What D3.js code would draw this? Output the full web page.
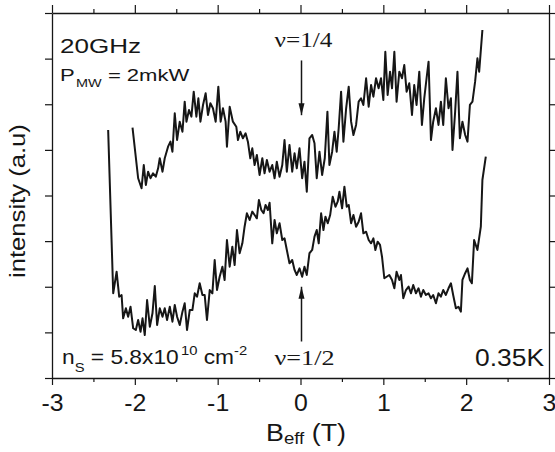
<!DOCTYPE html>
<html>
<head>
<meta charset="utf-8">
<script src="https://cdn.jsdelivr.net/npm/d3@7"></script>
<style>
  html, body { margin: 0; padding: 0; background: #fff; }
  svg { display: block; }
</style>
</head>
<body>
<svg id="chart" width="555" height="452"></svg>
<script>
// Microwave absorption vs effective field, two filling-factor sweeps (a.u.)
const fieldUpper = [
  -2.028, -1.960, -1.919, -1.892, -1.867, -1.840, -1.811, -1.780, -1.747, -1.719,
  -1.699, -1.666, -1.639, -1.599, -1.570, -1.546, -1.518, -1.490, -1.458, -1.425,
  -1.398, -1.377, -1.346, -1.317, -1.289, -1.257, -1.233, -1.208, -1.177, -1.145,
  -1.117, -1.088, -1.057, -1.024, -0.992, -0.964, -0.936, -0.904, -0.888, -0.855,
  -0.816, -0.775, -0.755, -0.727, -0.695, -0.663, -0.635, -0.606, -0.582, -0.554,
  -0.527, -0.494, -0.461, -0.434, -0.406, -0.373, -0.341, -0.313, -0.286, -0.253,
  -0.220, -0.193, -0.165, -0.133, -0.100, -0.072, -0.045, -0.012, 0.020, 0.048,
  0.076, 0.108, 0.141, 0.169, 0.196, 0.229, 0.261, 0.293, 0.325, 0.349,
  0.382, 0.410, 0.437, 0.461, 0.490, 0.518, 0.551, 0.582, 0.611, 0.639,
  0.671, 0.702, 0.731, 0.759, 0.792, 0.823, 0.852, 0.880, 0.912, 0.943,
  0.972, 1.000, 1.024, 1.052, 1.081, 1.105, 1.133, 1.160, 1.193, 1.225,
  1.253, 1.281, 1.313, 1.346, 1.373, 1.401, 1.434, 1.466, 1.494, 1.522,
  1.546, 1.575, 1.602, 1.635, 1.666, 1.695, 1.723, 1.755, 1.787, 1.816,
  1.835, 1.867, 1.895, 1.924, 1.955, 1.988, 2.016, 2.045, 2.076, 2.108,
  2.136, 2.157, 2.196
];
const intensityUpper = [
  274.3, 218.9, 207.9, 233.4, 211.5, 226.1, 218.9, 224.3, 220.6, 229.8,
  240.8, 226.1, 240.8, 253.5, 259.0, 248.0, 290.1, 260.8, 280.9, 269.9,
  302.8, 280.9, 293.7, 286.4, 313.8, 286.4, 306.5, 280.9, 299.2, 312.0,
  288.2, 301.1, 295.6, 280.9, 319.3, 280.9, 295.6, 280.9, 253.5, 297.3,
  280.9, 275.4, 260.8, 269.9, 262.7, 268.2, 259.0, 240.8, 251.7, 233.4,
  244.4, 222.5, 240.8, 224.3, 238.9, 226.1, 233.4, 218.9, 237.1, 220.6,
  233.4, 260.8, 226.1, 255.4, 226.1, 246.3, 229.8, 251.7, 218.9, 237.1,
  204.2, 262.7, 266.3, 257.2, 218.9, 248.0, 222.5, 240.8, 291.9, 233.4,
  248.0, 269.9, 248.0, 273.7, 313.8, 259.0, 295.6, 319.3, 280.9, 266.3,
  277.3, 302.8, 306.5, 299.2, 328.5, 297.3, 321.1, 308.3, 328.5, 317.5,
  328.5, 304.7, 357.6, 310.2, 335.7, 317.5, 357.6, 302.8, 335.7, 328.5,
  343.0, 313.8, 323.0, 288.2, 321.1, 299.2, 335.7, 277.3, 306.5, 328.5,
  346.7, 260.8, 280.9, 295.6, 277.3, 302.8, 277.3, 328.5, 295.6, 306.5,
  249.9, 291.9, 335.7, 262.7, 280.9, 266.3, 259.0, 299.2, 302.8, 324.7,
  350.4, 335.7, 381.4
];
const fieldLower = [
  -2.322, -2.261, -2.220, -2.189, -2.160, -2.141, -2.108, -2.081, -2.052, -2.020,
  -1.988, -1.960, -1.931, -1.907, -1.880, -1.852, -1.819, -1.787, -1.759, -1.731,
  -1.699, -1.666, -1.639, -1.611, -1.578, -1.546, -1.518, -1.490, -1.458, -1.425,
  -1.398, -1.370, -1.337, -1.305, -1.277, -1.249, -1.217, -1.184, -1.157, -1.129,
  -1.096, -1.064, -1.036, -1.008, -0.976, -0.943, -0.916, -0.888, -0.855, -0.823,
  -0.795, -0.767, -0.735, -0.702, -0.675, -0.647, -0.614, -0.582, -0.554, -0.527,
  -0.502, -0.473, -0.446, -0.422, -0.394, -0.373, -0.341, -0.313, -0.286, -0.253,
  -0.220, -0.193, -0.165, -0.133, -0.100, -0.072, -0.045, -0.012, 0.020, 0.048,
  0.076, 0.108, 0.141, 0.169, 0.196, 0.220, 0.249, 0.277, 0.301, 0.329,
  0.358, 0.389, 0.422, 0.449, 0.470, 0.502, 0.530, 0.558, 0.582, 0.611,
  0.639, 0.671, 0.702, 0.731, 0.759, 0.792, 0.823, 0.852, 0.880, 0.904,
  0.931, 0.960, 0.984, 1.012, 1.040, 1.072, 1.105, 1.133, 1.160, 1.193,
  1.213, 1.241, 1.273, 1.305, 1.334, 1.361, 1.394, 1.425, 1.454, 1.482,
  1.514, 1.546, 1.575, 1.602, 1.635, 1.666, 1.695, 1.723, 1.755, 1.787,
  1.816, 1.843, 1.876, 1.907, 1.936, 1.955, 1.988, 2.016, 2.045, 2.069,
  2.096, 2.136, 2.177, 2.196, 2.237
];
const intensityLower = [
  271.8, 92.8, 116.5, 89.1, 91.0, 65.4, 76.4, 67.2, 78.1, 54.5,
  52.6, 63.6, 50.7, 65.4, 47.1, 85.5, 56.2, 70.9, 100.8, 58.1,
  76.4, 67.2, 76.4, 63.6, 78.1, 61.7, 80.0, 67.2, 58.1, 72.7,
  81.9, 52.6, 74.5, 74.5, 92.8, 89.1, 103.8, 91.0, 91.0, 63.6,
  96.4, 92.8, 129.3, 96.4, 111.0, 122.0, 107.4, 151.2, 122.0, 143.9,
  123.8, 162.2, 136.7, 147.6, 165.8, 180.5, 173.2, 182.3, 178.6, 175.0,
  195.1, 184.1, 180.5, 189.6, 184.1, 192.1, 147.6, 173.2, 158.6, 169.6,
  151.2, 153.1, 140.3, 125.7, 129.3, 118.4, 112.9, 120.2, 111.0, 122.0,
  112.9, 136.7, 140.3, 154.9, 162.2, 147.6, 180.5, 162.2, 176.8, 169.6,
  178.6, 198.7, 187.7, 193.2, 204.2, 186.0, 209.7, 187.7, 189.6, 169.6,
  178.6, 165.8, 171.3, 180.5, 158.6, 160.3, 151.2, 147.6, 153.1, 140.3,
  149.4, 145.8, 132.9, 109.3, 111.0, 112.9, 107.4, 98.3, 116.5, 107.4,
  112.9, 87.4, 96.4, 100.1, 92.8, 101.9, 92.8, 98.3, 89.1, 96.4,
  91.0, 92.8, 87.4, 91.0, 81.9, 92.8, 89.1, 96.4, 91.0, 98.3,
  103.8, 91.0, 76.4, 78.1, 72.7, 107.4, 114.8, 120.2, 107.4, 103.8,
  151.2, 140.3, 165.8, 217.0, 242.5
];
const xMajorTicks = [-3, -2, -1, 0, 1, 2, 3];
const xMinorTicks = [-2.5, -1.5, -0.5, 0.5, 1.5, 2.5];
const xTickLabels = ["-3", "-2", "-1", "0", "1", "2", "3"];
const yTicks = [0, 50, 100, 150, 200, 250, 300, 350, 400];

const svg = d3.select("#chart");
const frame = { left: 52, right: 549, top: 13, bottom: 378 };
const SANS = "'Liberation Sans', Arial, Helvetica, sans-serif";
const SERIF = "'Liberation Serif', 'Times New Roman', serif";
const INK = "#161616";

const x = d3.scaleLinear().domain([-3, 3]).range([frame.left, frame.right]);
const y = d3.scaleLinear().domain([0, 400]).range([frame.bottom, frame.top]);

// Axes on all four sides: ticks point outward, labels only on the bottom.
const axisStyle = g => {
  g.select(".domain").attr("stroke", INK).attr("stroke-width", 1.3);
  g.selectAll(".tick line").attr("stroke", INK).attr("stroke-width", 1.2);
};

const bottomAxis = svg.append("g").attr("transform", `translate(0,${frame.bottom})`)
  .call(d3.axisBottom(x).tickValues(xMajorTicks).tickSize(7).tickSizeOuter(0)
    .tickFormat((d, i) => xTickLabels[i]));
bottomAxis.call(axisStyle);
bottomAxis.selectAll(".tick text")
  .attr("font-family", SANS).attr("font-size", 23).attr("fill", INK)
  .attr("y", 0).attr("dy", 0)
  .attr("transform", "translate(0,33) scale(1.08,1)");
svg.append("g").attr("transform", `translate(0,${frame.bottom})`)
  .call(d3.axisBottom(x).tickValues(xMinorTicks).tickSize(4).tickFormat(""))
  .call(g => g.select(".domain").remove())
  .call(axisStyle);

svg.append("g").attr("transform", `translate(0,${frame.top})`)
  .call(d3.axisTop(x).tickValues(xMajorTicks).tickSize(8).tickSizeOuter(0).tickFormat(""))
  .call(axisStyle);
svg.append("g").attr("transform", `translate(0,${frame.top})`)
  .call(d3.axisTop(x).tickValues(xMinorTicks).tickSize(4).tickFormat(""))
  .call(g => g.select(".domain").remove())
  .call(axisStyle);

svg.append("g").attr("transform", `translate(${frame.left},0)`)
  .call(d3.axisLeft(y).tickValues(yTicks).tickSize(7).tickSizeOuter(0).tickFormat(""))
  .call(axisStyle);
svg.append("g").attr("transform", `translate(${frame.right},0)`)
  .call(d3.axisRight(y).tickValues(yTicks).tickSize(6).tickSizeOuter(0).tickFormat(""))
  .call(axisStyle);

// Traces
const line = d3.line().x(d => x(d[0])).y(d => y(d[1]));
const upperTrace = d3.zip(fieldUpper, intensityUpper);
const lowerTrace = d3.zip(fieldLower, intensityLower);
svg.append("g").attr("fill", "none").attr("stroke", INK)
  .attr("stroke-width", 2).attr("stroke-linejoin", "round")
  .selectAll("path").data([upperTrace, lowerTrace]).join("path").attr("d", line);

// Filling-factor markers
svg.append("defs").append("marker")
  .attr("id", "head").attr("viewBox", "0 0 12 10").attr("refX", 12).attr("refY", 5)
  .attr("markerWidth", 12).attr("markerHeight", 10).attr("markerUnits", "userSpaceOnUse")
  .attr("orient", "auto")
  .append("path").attr("d", "M0,2 L12,5 L0,8 Z").attr("fill", INK);

const arrow = (v0, v1) => svg.append("line")
  .attr("x1", x(0) + 1).attr("x2", x(0) + 1)
  .attr("y1", y(v0)).attr("y2", y(v1))
  .attr("stroke", INK).attr("stroke-width", 1.5)
  .attr("marker-end", "url(#head)");
arrow(348, 288);
arrow(40, 100);

// Text helper: glyphs are widened so each label spans the given width
function label(px, py, width, opts, build) {
  const g = svg.append("g");
  const t = g.append("text")
    .attr("font-family", opts.family || SANS)
    .attr("font-size", opts.size)
    .attr("fill", INK)
    .attr("text-anchor", opts.anchor || "start");
  build(t);
  const sx = width / t.node().getComputedTextLength();
  g.attr("transform", `translate(${px},${py})${opts.rotate ? " rotate(-90)" : ""} scale(${sx},1)`);
  return t;
}

label(60, 53, 81, { size: 21 }, t => t.text("20GHz"));

label(60, 81, 128, { size: 16 }, t => {
  t.append("tspan").text("P");
  t.append("tspan").attr("font-size", 10.5).attr("dy", 6).attr("dx", 1).text("MW");
  t.append("tspan").attr("dy", -6).text(" = 2mkW");
});

label(x(0) + 3, 46.5, 58, { size: 20, family: SERIF, anchor: "middle" }, t => t.text("ν=1/4"));
label(x(0) + 4, 365, 60, { size: 20, family: SERIF, anchor: "middle" }, t => t.text("ν=1/2"));

label(62, 364, 183, { size: 20 }, t => {
  t.append("tspan").text("n");
  t.append("tspan").attr("font-size", 13).attr("dy", 8).text("S");
  t.append("tspan").attr("dy", -8).text(" = 5.8x10");
  t.append("tspan").attr("font-size", 13).attr("dy", -9).attr("dx", 2).text("10");
  t.append("tspan").attr("dy", 9).text(" cm");
  t.append("tspan").attr("font-size", 13).attr("dy", -9).text("-2");
});

label(544, 366, 69, { size: 23.5, anchor: "end" }, t => t.text("0.35K"));

label(266, 441, 80, { size: 23 }, t => {
  t.append("tspan").text("B");
  t.append("tspan").attr("font-size", 16).attr("dy", 3).text("eff");
  t.append("tspan").attr("dy", -3).text(" (T)");
});

label(25, 278, 154, { size: 22, rotate: true }, t => t.text("intensity (a.u)"));
</script>
</body>
</html>
